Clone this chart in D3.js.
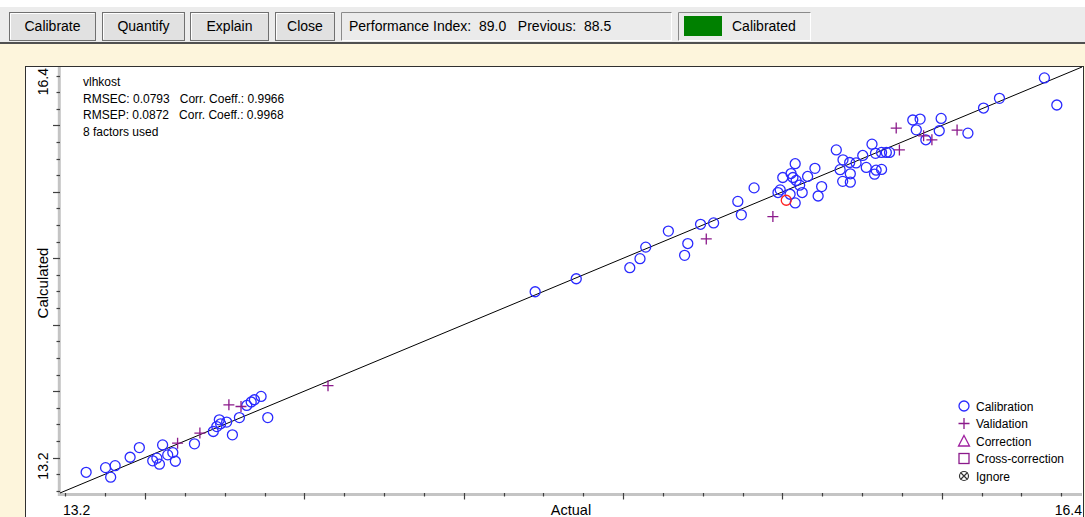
<!DOCTYPE html>
<html><head><meta charset="utf-8">
<script src="https://cdn.jsdelivr.net/npm/d3@7"></script>
<style>
body{margin:0;background:#fdf5dc;overflow:hidden;}
svg{display:block;font-family:"Liberation Sans",Arial,sans-serif;}
</style>
</head><body>
<svg id="c" width="1085" height="517"></svg>
<script>
// ---- data (Actual vs Calculated) ----
const calibActual = [13.315,13.376,13.406,13.392,13.453,13.482,13.555,13.524,13.537,13.545,13.571,13.587,13.595,13.655,13.714,13.725,13.733,13.737,13.756,13.774,13.796,13.819,13.833,13.843,13.864,13.885,
  14.724,14.853,15.021,15.053,15.071,15.142,15.193,15.203,15.243,15.284,15.360,15.371,15.411,15.486,15.493,15.501,15.527,15.533,15.540,15.543,15.554,15.540,15.562,15.579,15.602,15.623,15.612,
  15.669,15.690,15.681,15.711,15.713,15.689,15.713,15.731,15.752,15.763,15.781,15.792,15.794,15.789,15.811,15.811,15.826,15.836,15.524,
  15.909,15.932,15.920,15.950,15.998,15.992,16.082,16.131,16.181,16.322,16.361];
const calibCalc = [13.389,13.424,13.439,13.352,13.502,13.575,13.595,13.475,13.495,13.450,13.520,13.537,13.472,13.603,13.696,13.733,13.784,13.754,13.767,13.671,13.801,13.892,13.918,13.935,13.960,13.801,
  14.748,14.846,14.929,14.997,15.084,15.205,15.022,15.111,15.256,15.266,15.428,15.327,15.530,15.495,15.515,15.608,15.638,15.608,15.712,15.586,15.550,15.417,15.495,15.616,15.677,15.540,15.469,
  15.816,15.741,15.667,15.721,15.636,15.579,15.573,15.718,15.774,15.684,15.859,15.790,15.663,15.633,15.669,15.797,15.797,15.797,15.482,
  16.041,16.048,15.967,15.892,16.053,15.960,15.942,16.131,16.204,16.358,16.154];
const validActual = [13.602,13.672,13.763,13.801,14.074,15.261,15.470,15.857,15.867,15.943,15.969,16.048];
const validCalc   = [13.608,13.684,13.897,13.884,14.041,15.146,15.314,15.980,15.816,15.922,15.892,15.965];
const selectedActual = [15.512];
const selectedCalc   = [15.437];

const axisMin = 13.233, axisMax = 16.44;
const minorStep = 0.125, majorStep = 0.5;
const statsLines = ["vlhkost", "RMSEC: 0.0793   Corr. Coeff.: 0.9966", "RMSEP: 0.0872   Corr. Coeff.: 0.9968", "8 factors used"];
const legendLabels = ["Calibration", "Validation", "Correction", "Cross-correction", "Ignore"];
const buttonLabels = ["Calibrate", "Quantify", "Explain", "Close"];
const perfText = "Performance Index:  89.0   Previous:  88.5";
const statusText = "Calibrated";

// ---- drawing ----
const svg = d3.select("#c");
const W = 1085, H = 517;

// toolbar
svg.append("rect").attr("x",0).attr("y",0).attr("width",W).attr("height",43).attr("fill","#ececec");
svg.append("rect").attr("x",0).attr("y",0).attr("width",W).attr("height",7).attr("fill","#ffffff");
svg.append("rect").attr("x",0).attr("y",43).attr("width",W).attr("height",H-43).attr("fill","#fdf5dc");
svg.append("line").attr("x1",0).attr("x2",W).attr("y1",43).attr("y2",43).attr("stroke","#505050").attr("stroke-width",2);

const btnX = [9,102,190,275], btnW = [86,82,78,59];
buttonLabels.forEach((t,i)=>{
  const g = svg.append("g").attr("transform",`translate(${btnX[i]},12)`);
  g.append("rect").attr("x",0.5).attr("y",0.5).attr("width",btnW[i]).attr("height",28).attr("fill","#e1e1e1").attr("stroke","#707070");
  g.append("path").attr("d",`M1.5,27.5V1.5H${btnW[i]-0.5}`).attr("fill","none").attr("stroke","#fff");
  g.append("text").attr("x",btnW[i]/2+0.5).attr("y",19).attr("text-anchor","middle").attr("font-size",14).attr("fill","#000").text(t);
});
function sunken(x,w){
  svg.append("rect").attr("x",x+0.5).attr("y",12.5).attr("width",w).attr("height",28).attr("fill","#ebebeb").attr("stroke","#ffffff");
  svg.append("path").attr("d",`M${x+0.5},40.5V12.5H${x+w+0.5}`).attr("fill","none").attr("stroke","#8a8a8a");
}
sunken(341,330);
svg.append("text").attr("x",349).attr("y",31).attr("font-size",14).attr("fill","#000").attr("xml:space","preserve").style("white-space","pre").text(perfText);
sunken(678,132);
svg.append("rect").attr("x",684).attr("y",16).attr("width",38).attr("height",20).attr("fill","#008000");
svg.append("text").attr("x",732).attr("y",31).attr("font-size",14).attr("fill","#000").text(statusText);

// plot panel
svg.append("rect").attr("x",25.5).attr("y",66.5).attr("width",1058).attr("height",460).attr("fill","#ffffff").attr("stroke","#303030");

const x = d3.scaleLinear().domain([axisMin,axisMax]).range([60,1082]);
const y = d3.scaleLinear().domain([axisMin,axisMax]).range([493,67]);

// axis lines
svg.append("line").attr("x1",58).attr("x2",1082).attr("y1",494.5).attr("y2",494.5).attr("stroke","#c4c4c4").attr("stroke-width",3);
svg.append("line").attr("x1",59.3).attr("x2",59.3).attr("y1",67).attr("y2",496).attr("stroke","#c4c4c4").attr("stroke-width",3);

const tickVals = d3.range(Math.ceil(axisMin/minorStep)*minorStep, axisMax, minorStep);
const isMajor = v => Math.abs(v/majorStep - Math.round(v/majorStep)) < 1e-6;
svg.append("g").selectAll("line").data(tickVals).join("line")
  .attr("x1",d=>Math.round(x(d))+0.5).attr("x2",d=>Math.round(x(d))+0.5)
  .attr("y1",493).attr("y2",d=>isMajor(d)?499.5:496.5)
  .attr("stroke","#404040").attr("stroke-width",1.2);
svg.append("g").selectAll("line").data(tickVals).join("line")
  .attr("y1",d=>Math.round(y(d))+0.5).attr("y2",d=>Math.round(y(d))+0.5)
  .attr("x1",d=>isMajor(d)?53:56.5).attr("x2",60)
  .attr("stroke","#404040").attr("stroke-width",1.2);

// axis labels
const fmt = d3.format(".1f");
svg.append("text").attr("x",x(axisMin)+3).attr("y",515).attr("font-size",14).attr("fill","#000").text(fmt(axisMin));
svg.append("text").attr("x",1082).attr("y",515).attr("text-anchor","end").attr("font-size",14).attr("fill","#000").text(fmt(axisMax));
svg.append("text").attr("x",(x(axisMin)+x(axisMax))/2).attr("y",515).attr("text-anchor","middle").attr("font-size",14.5).attr("fill","#000").text("Actual");
svg.append("text").attr("transform","translate(48,68) rotate(-90)").attr("text-anchor","end").attr("font-size",14).attr("fill","#000").text(fmt(axisMax));
svg.append("text").attr("transform","translate(48,466) rotate(-90)").attr("text-anchor","middle").attr("font-size",14).attr("fill","#000").text(fmt(axisMin));
svg.append("text").attr("transform",`translate(48,${(y(axisMin)+y(axisMax))/2+3}) rotate(-90)`).attr("text-anchor","middle").attr("font-size",15).attr("fill","#000").text("Calculated");

// diagonal
svg.append("line").attr("x1",x(axisMin)).attr("y1",y(axisMin)).attr("x2",x(axisMax)).attr("y2",y(axisMax)).attr("stroke","#000").attr("stroke-width",1);

// points
const blue = "#2a2aff", purple = "#8b1a8b";
const calib = calibActual.map((a,i)=>({a,c:calibCalc[i]}));
const valid = validActual.map((a,i)=>({a,c:validCalc[i]}));
const sel = selectedActual.map((a,i)=>({a,c:selectedCalc[i]}));
svg.append("g").selectAll("circle").data(calib).join("circle")
  .attr("cx",d=>x(d.a)).attr("cy",d=>y(d.c)).attr("r",5)
  .attr("fill","none").attr("stroke",blue).attr("stroke-width",1.3);
svg.append("g").selectAll("circle").data(sel).join("circle")
  .attr("cx",d=>x(d.a)).attr("cy",d=>y(d.c)).attr("r",5)
  .attr("fill","none").attr("stroke","#ff2020").attr("stroke-width",1.3);
svg.append("g").selectAll("path").data(valid).join("path")
  .attr("transform",d=>`translate(${x(d.a)},${y(d.c)})`)
  .attr("d","M-5.5,0H5.5M0,-5.5V5.5").attr("stroke",purple).attr("stroke-width",1.3).attr("fill","none");

// stats text
svg.append("g").selectAll("text").data(statsLines).join("text")
  .attr("x",83).attr("y",(d,i)=>86+i*16.6).attr("font-size",12).attr("fill","#000")
  .attr("xml:space","preserve").style("white-space","pre").text(d=>d);

// legend
const lg = svg.append("g");
const ly = i => 406 + i*17.5;
legendLabels.forEach((t,i)=>{
  lg.append("text").attr("x",976).attr("y",ly(i)+4.5).attr("font-size",12).attr("fill","#000").text(t);
});
lg.append("circle").attr("cx",964).attr("cy",ly(0)).attr("r",5).attr("fill","none").attr("stroke",blue).attr("stroke-width",1.3);
lg.append("path").attr("transform",`translate(964,${ly(1)})`).attr("d","M-5.5,0H5.5M0,-5.5V5.5").attr("stroke",purple).attr("stroke-width",1.3);
lg.append("path").attr("transform",`translate(964,${ly(2)})`).attr("d","M0,-5.5L5.5,5L-5.5,5Z").attr("stroke","#a020a0").attr("fill","none").attr("stroke-width",1.3);
lg.append("rect").attr("x",959).attr("y",ly(3)-5).attr("width",10).attr("height",10).attr("stroke","#8b1a8b").attr("fill","none").attr("stroke-width",1.3);
const ig = lg.append("g").attr("transform",`translate(964,${ly(4)})`);
ig.append("circle").attr("r",4.5).attr("fill","none").attr("stroke","#333").attr("stroke-width",1.2);
ig.append("path").attr("d","M-3.5,-3.5L3.5,3.5M3.5,-3.5L-3.5,3.5").attr("stroke","#333").attr("stroke-width",1.2);
</script>
</body></html>
